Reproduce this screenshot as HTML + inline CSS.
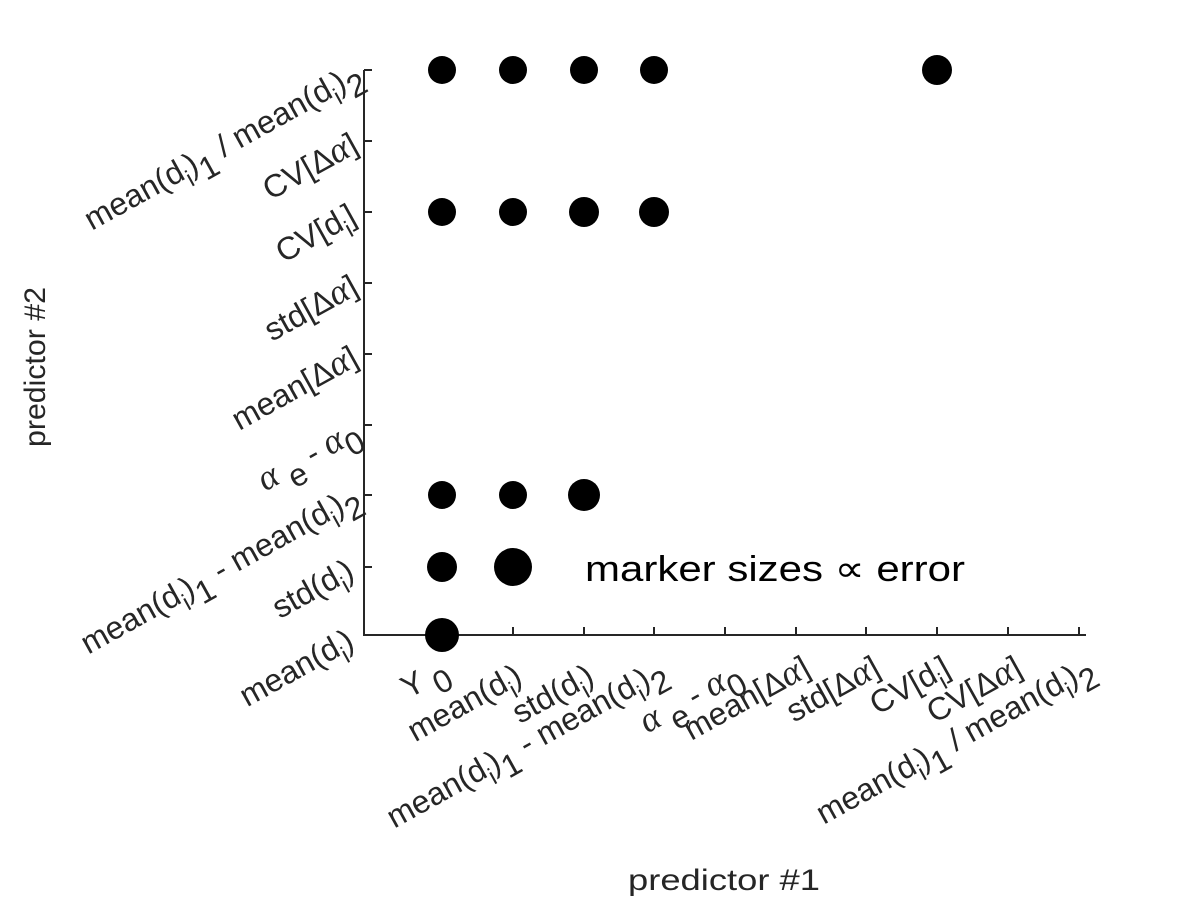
<!DOCTYPE html>
<html><head><style>
html,body{margin:0;padding:0;background:#fff;}
svg{display:block;}
text{font-family:"Liberation Sans",sans-serif;font-size:32px;fill:#262626;}
.g{font-family:"Liberation Serif",serif;font-style:italic;font-size:36px;}
</style></head><body>
<svg width="1200" height="900" viewBox="0 0 1200 900">
<g stroke="#262626" stroke-width="2" fill="none">
<line x1="364" y1="70" x2="364" y2="636"/>
<line x1="363" y1="635" x2="1086" y2="635"/>
<line x1="364" y1="70" x2="372" y2="70"/>
<line x1="364" y1="141" x2="372" y2="141"/>
<line x1="364" y1="212" x2="372" y2="212"/>
<line x1="364" y1="283" x2="372" y2="283"/>
<line x1="364" y1="354" x2="372" y2="354"/>
<line x1="364" y1="425" x2="372" y2="425"/>
<line x1="364" y1="495" x2="372" y2="495"/>
<line x1="364" y1="567" x2="372" y2="567"/>
<line x1="442" y1="635" x2="442" y2="627"/>
<line x1="513" y1="635" x2="513" y2="627"/>
<line x1="584" y1="635" x2="584" y2="627"/>
<line x1="654" y1="635" x2="654" y2="627"/>
<line x1="725" y1="635" x2="725" y2="627"/>
<line x1="796" y1="635" x2="796" y2="627"/>
<line x1="866" y1="635" x2="866" y2="627"/>
<line x1="937" y1="635" x2="937" y2="627"/>
<line x1="1008" y1="635" x2="1008" y2="627"/>
<line x1="1079" y1="635" x2="1079" y2="627"/>
</g>
<g fill="#000">
<circle cx="442" cy="70" r="14"/><circle cx="513" cy="70" r="14"/><circle cx="584" cy="70" r="14"/><circle cx="654" cy="70" r="14"/><circle cx="937" cy="70" r="15"/>
<circle cx="442" cy="212" r="14"/><circle cx="513" cy="212" r="14"/><circle cx="584" cy="212" r="15"/><circle cx="654" cy="212" r="15"/>
<circle cx="442" cy="495" r="14"/><circle cx="513" cy="495" r="14"/><circle cx="584" cy="495" r="16"/>
<circle cx="442" cy="567" r="15"/><circle cx="513" cy="567" r="19"/>
<circle cx="442" cy="635" r="17"/>
</g>
<text x="585" y="581" style="font-size:36px;fill:#000" textLength="380" lengthAdjust="spacingAndGlyphs">marker sizes ∝ error</text>
<text x="724" y="890" text-anchor="middle" style="font-size:30px" textLength="192" lengthAdjust="spacingAndGlyphs">predictor #1</text>
<text transform="translate(45,367) rotate(-90)" text-anchor="middle" style="font-size:30px" textLength="160" lengthAdjust="spacingAndGlyphs">predictor #2</text>

<g text-anchor="end">
<text transform="translate(356,647) rotate(-29)">mean(d<tspan dy="10" font-size="24">i</tspan><tspan dy="-10">)</tspan></text>
<text transform="translate(356,577) rotate(-29)">std(d<tspan dy="10" font-size="24">i</tspan><tspan dy="-10">)</tspan></text>
<text transform="translate(362,503) rotate(-29)">mean(d<tspan dy="10" font-size="24">i</tspan><tspan dy="-10">)</tspan><tspan dy="12">1</tspan><tspan dy="-12"> - mean(d</tspan><tspan dy="10" font-size="24">i</tspan><tspan dy="-10">)</tspan><tspan dy="12">2</tspan></text>
<text transform="translate(362,438) rotate(-29)"><tspan class="g">α</tspan><tspan dy="12"> e</tspan><tspan dy="-12"> - </tspan><tspan class="g">α</tspan><tspan dy="12">0</tspan></text>
<text transform="translate(360,364) rotate(-29)">mean[Δ<tspan class="g">α</tspan>]</text>
<text transform="translate(360,293) rotate(-29)">std[Δ<tspan class="g">α</tspan>]</text>
<text transform="translate(358,222) rotate(-29)">CV[d<tspan dy="10" font-size="24">i</tspan><tspan dy="-10">]</tspan></text>
<text transform="translate(360,151) rotate(-29)">CV[Δ<tspan class="g">α</tspan>]</text>
<text transform="translate(364,80) rotate(-29)">mean(d<tspan dy="10" font-size="24">i</tspan><tspan dy="-10">)</tspan><tspan dy="12">1</tspan><tspan dy="-12"> / mean(d</tspan><tspan dy="10" font-size="24">i</tspan><tspan dy="-10">)</tspan><tspan dy="12">2</tspan></text>
</g>
<g text-anchor="end">
<text transform="translate(450,676) rotate(-29)">Y<tspan dy="12"> 0</tspan></text>
<text transform="translate(524,682) rotate(-29)">mean(d<tspan dy="10" font-size="24">i</tspan><tspan dy="-10">)</tspan></text>
<text transform="translate(596,682) rotate(-29)">std(d<tspan dy="10" font-size="24">i</tspan><tspan dy="-10">)</tspan></text>
<text transform="translate(668,677) rotate(-29)">mean(d<tspan dy="10" font-size="24">i</tspan><tspan dy="-10">)</tspan><tspan dy="12">1</tspan><tspan dy="-12"> - mean(d</tspan><tspan dy="10" font-size="24">i</tspan><tspan dy="-10">)</tspan><tspan dy="12">2</tspan></text>
<text transform="translate(744,680) rotate(-29)"><tspan class="g">α</tspan><tspan dy="12"> e</tspan><tspan dy="-12"> - </tspan><tspan class="g">α</tspan><tspan dy="12">0</tspan></text>
<text transform="translate(812,674) rotate(-29)">mean[Δ<tspan class="g">α</tspan>]</text>
<text transform="translate(882,674) rotate(-29)">std[Δ<tspan class="g">α</tspan>]</text>
<text transform="translate(952,674) rotate(-29)">CV[d<tspan dy="10" font-size="24">i</tspan><tspan dy="-10">]</tspan></text>
<text transform="translate(1024,674) rotate(-29)">CV[Δ<tspan class="g">α</tspan>]</text>
<text transform="translate(1096,674) rotate(-29)">mean(d<tspan dy="10" font-size="24">i</tspan><tspan dy="-10">)</tspan><tspan dy="12">1</tspan><tspan dy="-12"> / mean(d</tspan><tspan dy="10" font-size="24">i</tspan><tspan dy="-10">)</tspan><tspan dy="12">2</tspan></text>
</g>
</svg>
</body></html>
